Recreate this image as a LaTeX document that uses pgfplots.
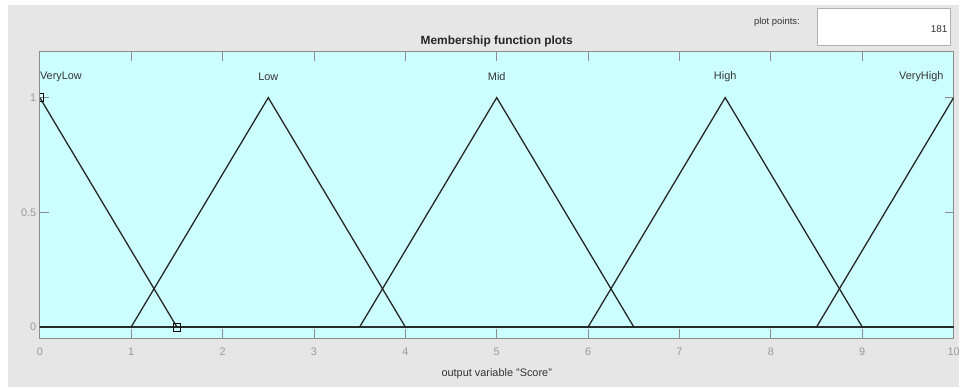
\documentclass[border=0pt]{standalone}
\usepackage{fontspec}
\setmainfont{Liberation Sans}
\usepackage{pgfplots}
\pgfplotsset{compat=1.18}
\definecolor{figgray}{HTML}{E6E6E6}
\definecolor{axbg}{HTML}{CCFFFF}
\definecolor{axgray}{HTML}{8C8C8C}
\definecolor{tickgray}{HTML}{9A9A9A}
\definecolor{mfline}{HTML}{262626}
\definecolor{lbl}{HTML}{333333}
\begin{document}
\begin{tikzpicture}[x=1bp,y=1bp]
\fill[white] (0,0) rectangle (963,389);
\fill[figgray] (8,0) rectangle (963,384);
\draw[gray!60, fill=white] (821,344) rectangle (955,381);
\node[font=\fontsize{9.5}{11}\selectfont, text=lbl, inner sep=0] at (780.5,367) {plot points:};
\node[font=\fontsize{10}{12}\selectfont, text=lbl, anchor=east, inner sep=0] at (952,360) {181};
\begin{axis}[
  at={(40bp,49bp)}, anchor=south west,
  width=918bp, height=288bp, scale only axis,
  xmin=0, xmax=10, ymin=-0.05, ymax=1.2,
  xtick={0,1,...,10}, ytick={0,0.5,1},
  tick align=inside, major tick length=9bp,
  tick style={axgray, line width=0.8bp},
  axis line style={axgray, line width=0.8bp},
  axis background/.style={fill=axbg},
  /pgf/number format/assume math mode=true,
  ticklabel style={font=\fontsize{11}{13}\selectfont, text=tickgray},
  xticklabel style={yshift=-6bp},
  xlabel={output variable "Score"},
  xlabel style={font=\fontsize{11}{13}\selectfont, text=lbl, at={(axis description cs:0.5,0)}, anchor=center, yshift=-35bp},
  every axis title shift=0pt,
  title={Membership function plots},
  title style={font=\bfseries\fontsize{12}{14}\selectfont, text=black!85, at={(axis description cs:0.5,1)}, anchor=center, yshift=10bp},
  clip marker paths=true,
]
\addplot[mfline, line width=1.3bp] coordinates {(0,1) (1.5,0) (10,0)};
\addplot[mfline, line width=1.3bp] coordinates {(0,0) (1,0) (2.5,1) (4,0) (10,0)};
\addplot[mfline, line width=1.3bp] coordinates {(0,0) (3.5,0) (5,1) (6.5,0) (10,0)};
\addplot[mfline, line width=1.3bp] coordinates {(0,0) (6,0) (7.5,1) (9,0) (10,0)};
\addplot[mfline, line width=1.3bp] coordinates {(0,0) (8.5,0) (10,1)};
\addplot[only marks, mark=square, mark size=4bp, mark options={black, line width=0.8bp, fill=none}] coordinates {(0,1) (1.5,0)};
\node[font=\fontsize{11}{13}\selectfont, text=lbl, inner sep=0, anchor=west] at (axis cs:0,1.09) {VeryLow};
\node[font=\fontsize{11}{13}\selectfont, text=lbl, inner sep=0] at (axis cs:2.5,1.09) {Low};
\node[font=\fontsize{11}{13}\selectfont, text=lbl, inner sep=0] at (axis cs:5,1.09) {Mid};
\node[font=\fontsize{11}{13}\selectfont, text=lbl, inner sep=0] at (axis cs:7.5,1.09) {High};
\node[font=\fontsize{11}{13}\selectfont, text=lbl, inner sep=0, anchor=east] at (axis cs:9.89,1.09) {VeryHigh};
\end{axis}
\end{tikzpicture}
\end{document}
